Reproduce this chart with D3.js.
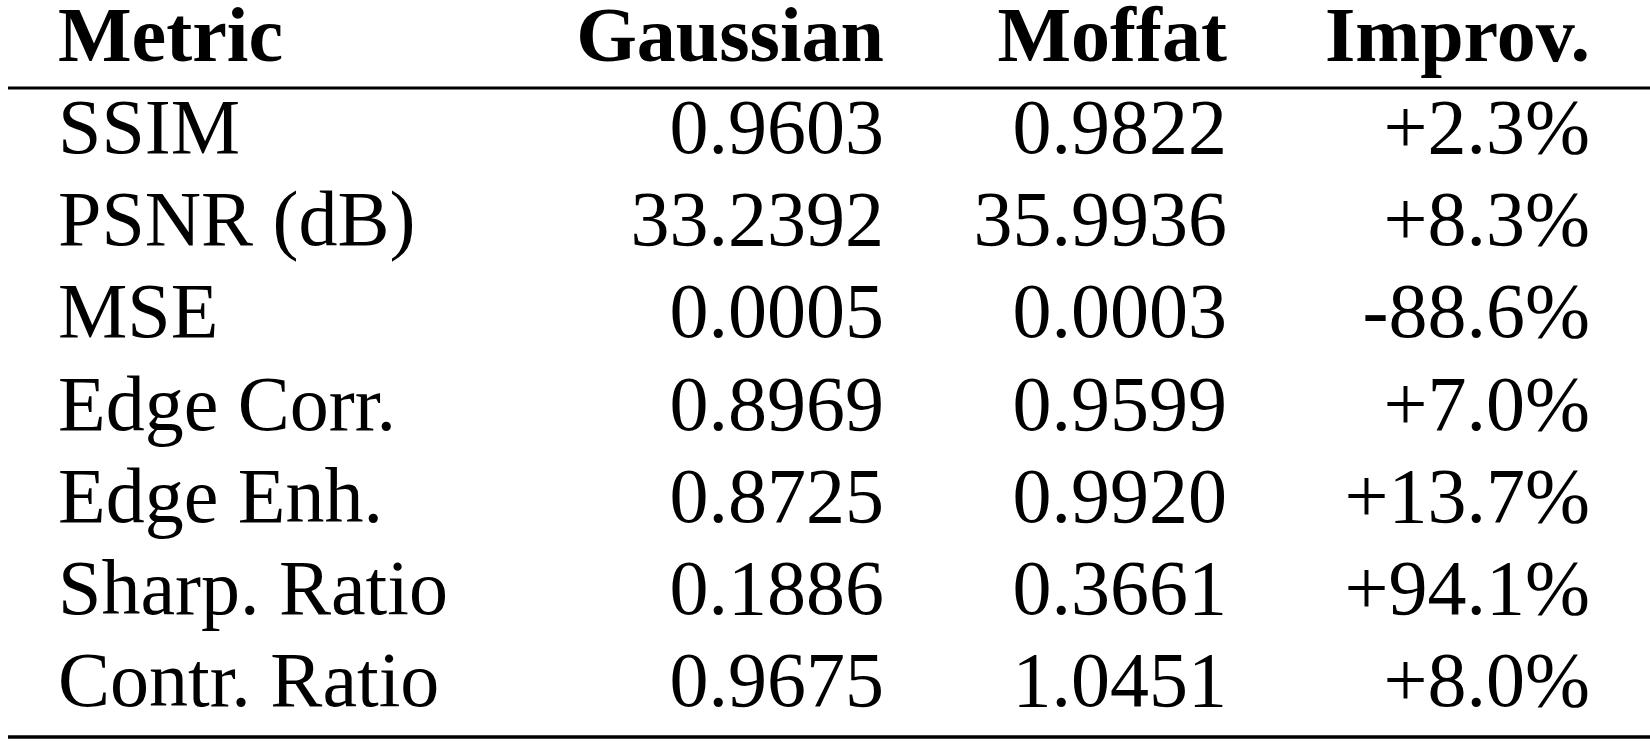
<!DOCTYPE html><html><head><meta charset="utf-8"><script src="https://cdn.jsdelivr.net/npm/d3@7"></script>
<style>body{margin:0;background:#fff}</style></head><body><svg id="c" width="1650" height="742"></svg>
<script>
const headers=["Metric","Gaussian","Moffat","Improv."];
const metrics=["SSIM","PSNR (dB)","MSE","Edge Corr.","Edge Enh.","Sharp. Ratio","Contr. Ratio"];
const gaussian=["0.9603","33.2392","0.0005","0.8969","0.8725","0.1886","0.9675"];
const moffat=["0.9822","35.9936","0.0003","0.9599","0.9920","0.3661","1.0451"];
const improv=["+2.3%","+8.3%","-88.6%","+7.0%","+13.7%","+94.1%","+8.0%"];
const svg=d3.select("#c");
const font="'Liberation Serif', serif", fs=78;
const y=d3.scalePoint().domain(d3.range(metrics.length)).range([153,706]);
const colX=[58,884,1227,1590], anchor=["start","end","end","end"];
headers.forEach((h,i)=>svg.append("text").attr("x",colX[i]).attr("y",61).attr("text-anchor",anchor[i])
  .attr("font-family",font).attr("font-size",fs).attr("font-weight","bold").text(h));
const cols=[metrics,gaussian,moffat,improv];
cols.forEach((arr,i)=>svg.selectAll(null).data(arr).join("text").attr("x",colX[i]).attr("y",(d,j)=>y(j))
  .attr("text-anchor",anchor[i]).attr("font-family",font).attr("font-size",fs).text(d=>d));
[[88,3],[737,3.5]].forEach(([yy,w])=>svg.append("line").attr("x1",8).attr("x2",1650).attr("y1",yy).attr("y2",yy).attr("stroke","#000").attr("stroke-width",w));
</script></body></html>
